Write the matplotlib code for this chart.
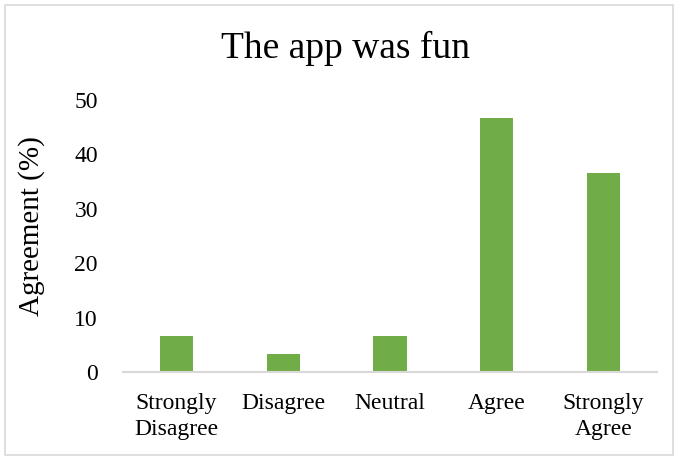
import matplotlib
matplotlib.use("Agg")
import matplotlib.pyplot as plt
from matplotlib.patches import Rectangle

categories = ["Strongly\nDisagree", "Disagree", "Neutral", "Agree", "Strongly\nAgree"]
agreement = [6.67, 3.33, 6.67, 46.67, 36.67]
y_ticks = [0, 10, 20, 30, 40, 50]

plt.rcParams["font.family"] = ["Liberation Serif", "DejaVu Serif"]

fig = plt.figure(figsize=(6.78, 4.57), dpi=100)
ax = fig.add_axes([0.1814, 0.186, 0.7876, 0.595])

x = range(len(categories))
ax.bar(x, agreement, width=0.31, color="#70AD47", zorder=2)

ax.set_xlim(-0.5, len(categories) - 0.5)
ax.set_ylim(0, 50)
ax.set_yticks(y_ticks)
ax.set_xticks(list(x))
ax.set_xticklabels(categories, fontsize=17, linespacing=1.3)
ax.tick_params(axis="both", length=0, labelsize=17, colors="#000000")
ax.tick_params(axis="x", pad=15)
ax.tick_params(axis="y", pad=18)

for side in ["top", "right", "left"]:
    ax.spines[side].set_visible(False)
ax.spines["bottom"].set_color("#D9D9D9")
ax.spines["bottom"].set_linewidth(1.5)

ax.set_ylabel("Agreement (%)", fontsize=21)
ax.yaxis.set_label_coords(-0.146, 0.535)
fig.text(0.509, 0.895, "The app was fun", ha="center", va="center", fontsize=27)

# light frame around the chart area
fig.patches.append(Rectangle((0.008, 0.005), 0.984, 0.985, transform=fig.transFigure,
                             fill=False, edgecolor="#D9D9D9", linewidth=1.2))

fig.savefig("out.png", dpi=100)
